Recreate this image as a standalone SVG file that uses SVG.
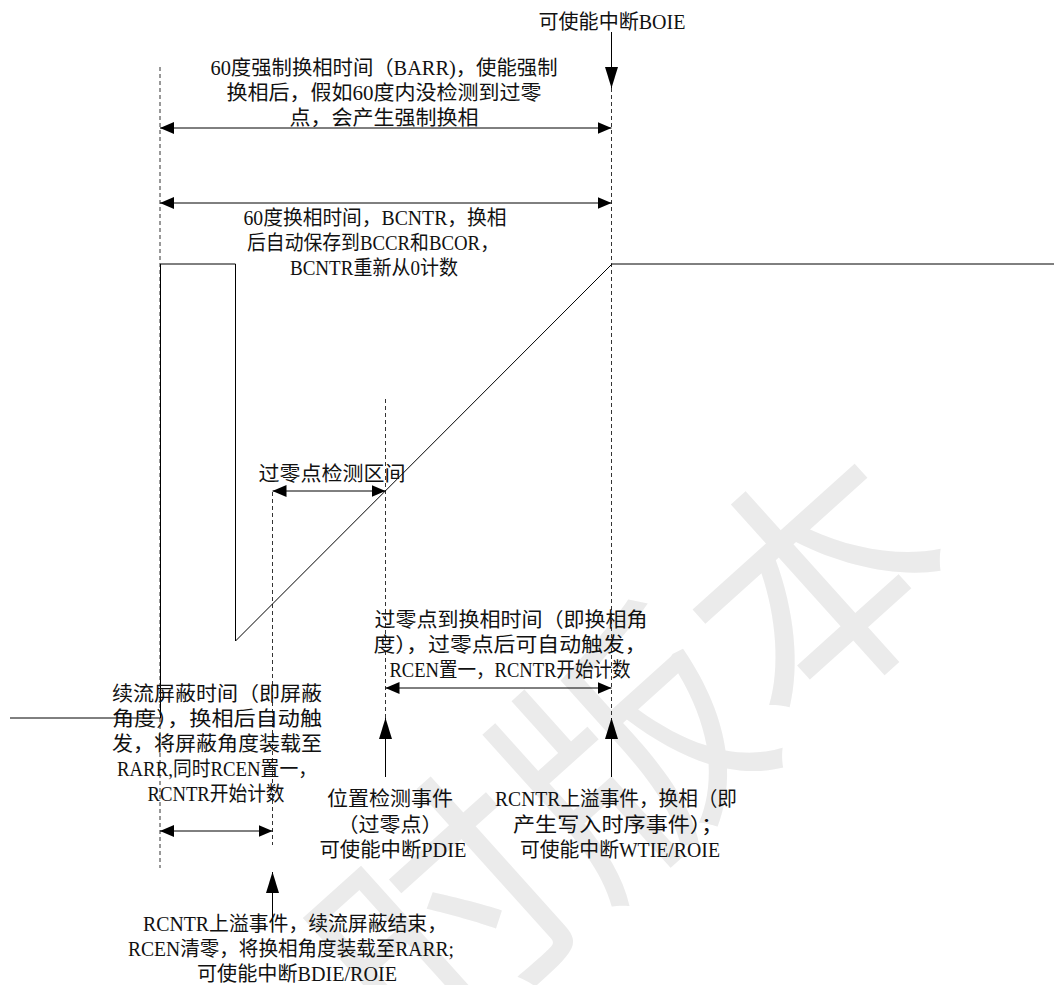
<svg xmlns="http://www.w3.org/2000/svg" width="1054" height="985" viewBox="0 0 1054 985">
<defs>
<style>
text{font-family:"Liberation Serif","Noto Sans CJK SC",serif;font-size:20px;fill:#111;text-anchor:middle}
.wm{font-family:"Noto Sans CJK SC",sans-serif;font-size:250px;fill:#ebebeb;dominant-baseline:central}
.dash{stroke:#333;stroke-width:1;stroke-dasharray:4 3;fill:none}
.wave{stroke:#000;stroke-width:1;fill:none}
.arr{stroke:#000;stroke-width:1;fill:none}
.dbl{marker-start:url(#ah);marker-end:url(#ah)}
.one{marker-end:url(#av)}
</style>
<marker id="ah" viewBox="0 0 14 12" refX="14" refY="6" markerWidth="14" markerHeight="12" markerUnits="userSpaceOnUse" orient="auto-start-reverse"><path d="M0,0L14,6L0,12z" fill="#000"/></marker>
<marker id="av" viewBox="0 0 21 13" refX="21" refY="6.5" markerWidth="21" markerHeight="13" markerUnits="userSpaceOnUse" orient="auto"><path d="M0,0L21,6.5L0,13z" fill="#000"/></marker>
</defs>
<rect width="1054" height="985" fill="#fff"/>
<text class="wm" transform="translate(620,740) rotate(-42)">时版本</text>

<g id="guides">
<line class="dash" x1="160" y1="67" x2="160" y2="868"/>
<line class="dash" x1="272.5" y1="492" x2="272.5" y2="845"/>
<line class="dash" x1="385.5" y1="399" x2="385.5" y2="718"/>
<line class="dash" x1="611.5" y1="88" x2="611.5" y2="718"/>
</g>

<g id="waveform">
<polyline class="wave" points="10,718 160.5,718 160.5,264 235.5,264 235.5,641 612,264 1054,264"/>
</g>

<g id="connectors">
<line class="arr one" x1="611.5" y1="32" x2="611.5" y2="88"/>
<line class="arr dbl" x1="160" y1="128" x2="611.5" y2="128"/>
<line class="arr dbl" x1="160" y1="203" x2="611.5" y2="203"/>
<line class="arr dbl" x1="272.5" y1="491" x2="385.5" y2="491"/>
<line class="arr dbl" x1="385.5" y1="688" x2="611.5" y2="688"/>
<line class="arr dbl" x1="160" y1="831" x2="272.5" y2="831"/>
<line class="arr one" x1="385.5" y1="777" x2="385.5" y2="718"/>
<line class="arr one" x1="611.5" y1="777" x2="611.5" y2="718"/>
<line class="arr one" x1="272.5" y1="930" x2="272.5" y2="872"/>
</g>

<g id="label-boie">
<text x="612" y="29" textLength="147" lengthAdjust="spacingAndGlyphs">可使能中断BOIE</text>
</g>

<g id="label-barr">
<text x="384" y="75" textLength="347" lengthAdjust="spacingAndGlyphs">60度强制换相时间（BARR)，使能强制</text>
<text x="384" y="100" textLength="315" lengthAdjust="spacingAndGlyphs">换相后，假如60度内没检测到过零</text>
<text x="384" y="125" textLength="189" lengthAdjust="spacingAndGlyphs">点，会产生强制换相</text>
</g>

<g id="label-bcntr">
<text x="375" y="225" textLength="263" lengthAdjust="spacingAndGlyphs">60度换相时间，BCNTR，换相</text>
<text x="373" y="250" textLength="252" lengthAdjust="spacingAndGlyphs">后自动保存到BCCR和BCOR，</text>
<text x="374" y="275" textLength="168" lengthAdjust="spacingAndGlyphs">BCNTR重新从0计数</text>
</g>

<g id="label-zc-window">
<text x="332" y="481" textLength="147" lengthAdjust="spacingAndGlyphs">过零点检测区间</text>
</g>

<g id="label-zc-to-comm">
<text x="511" y="627" textLength="273" lengthAdjust="spacingAndGlyphs">过零点到换相时间（即换相角</text>
<text x="510" y="652" textLength="273" lengthAdjust="spacingAndGlyphs">度），过零点后可自动触发，</text>
<text x="510" y="677" textLength="241" lengthAdjust="spacingAndGlyphs">RCEN置一，RCNTR开始计数</text>
</g>

<g id="label-blanking">
<text x="217" y="701" textLength="210" lengthAdjust="spacingAndGlyphs">续流屏蔽时间（即屏蔽</text>
<text x="217" y="726" textLength="210" lengthAdjust="spacingAndGlyphs">角度），换相后自动触</text>
<text x="217" y="751" textLength="210" lengthAdjust="spacingAndGlyphs">发，将屏蔽角度装载至</text>
<text x="217" y="776" textLength="200" lengthAdjust="spacingAndGlyphs">RARR,同时RCEN置一，</text>
<text x="216" y="801" textLength="137" lengthAdjust="spacingAndGlyphs">RCNTR开始计数</text>
</g>

<g id="label-pd-event">
<text x="390" y="806" textLength="126" lengthAdjust="spacingAndGlyphs">位置检测事件</text>
<text x="390" y="832" textLength="105" lengthAdjust="spacingAndGlyphs">（过零点）</text>
<text x="393" y="857" textLength="147" lengthAdjust="spacingAndGlyphs">可使能中断PDIE</text>
</g>

<g id="label-comm-event">
<text x="616" y="806" textLength="242" lengthAdjust="spacingAndGlyphs">RCNTR上溢事件，换相（即</text>
<text x="618" y="832" textLength="210" lengthAdjust="spacingAndGlyphs">产生写入时序事件）；</text>
<text x="620" y="857" textLength="200" lengthAdjust="spacingAndGlyphs">可使能中断WTIE/ROIE</text>
</g>

<g id="label-blank-end">
<text x="295" y="931" textLength="304" lengthAdjust="spacingAndGlyphs">RCNTR上溢事件，续流屏蔽结束，</text>
<text x="291" y="956" textLength="326" lengthAdjust="spacingAndGlyphs">RCEN清零，将换相角度装载至RARR;</text>
<text x="297" y="981" textLength="200" lengthAdjust="spacingAndGlyphs">可使能中断BDIE/ROIE</text>
</g>
</svg>
